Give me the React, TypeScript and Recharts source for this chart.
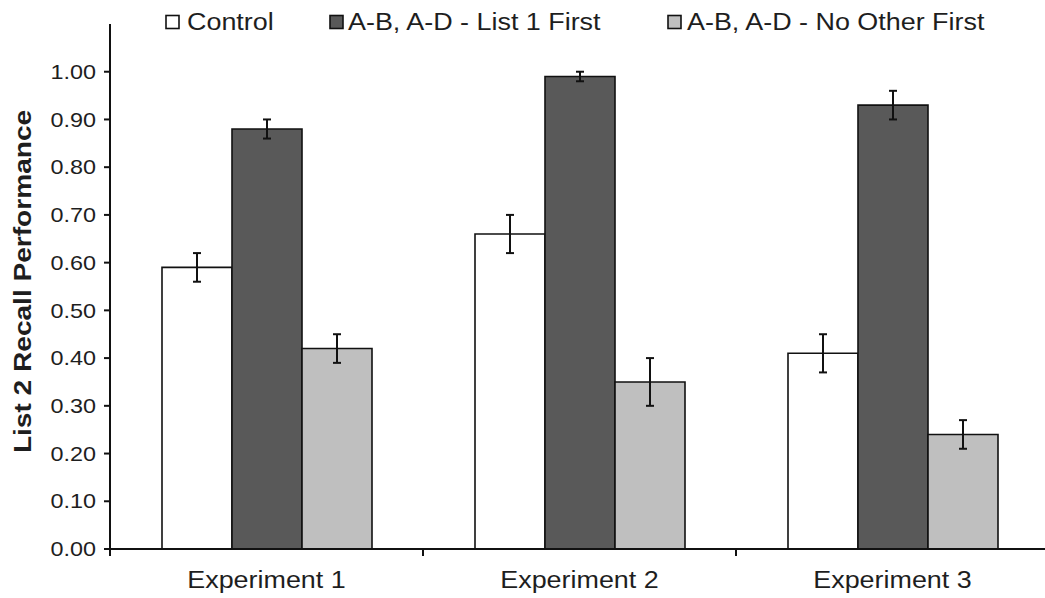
import React from 'react';
import { BarChart, Bar, XAxis, YAxis, ErrorBar, Legend } from 'recharts';

const categories = ['Experiment 1', 'Experiment 2', 'Experiment 3'];
const controlValues = [0.59, 0.66, 0.41];
const controlErrors = [0.03, 0.04, 0.04];
const list1FirstValues = [0.88, 0.99, 0.93];
const list1FirstErrors = [0.02, 0.01, 0.03];
const noOtherFirstValues = [0.42, 0.35, 0.24];
const noOtherFirstErrors = [0.03, 0.05, 0.03];
const yTicks = [0, 0.1, 0.2, 0.3, 0.4, 0.5, 0.6, 0.7, 0.8, 0.9, 1.0];
const seriesNames = ['Control', 'A-B, A-D - List 1 First', 'A-B, A-D - No Other First'];
const seriesColors = ['#FFFFFF', '#595959', '#BFBFBF'];
const yLabel = 'List 2 Recall Performance';

const data = categories.map((c, i) => ({
  name: c,
  control: controlValues[i],
  controlErr: controlErrors[i],
  list1: list1FirstValues[i],
  list1Err: list1FirstErrors[i],
  noOther: noOtherFirstValues[i],
  noOtherErr: noOtherFirstErrors[i],
}));

const FONT = '"Liberation Sans", Arial, sans-serif';
const TEXT = '#1e1e1e';
const SX = 1.17;

const YTick = (props: any) => {
  const { x, y, payload } = props;
  return (
    <text
      transform={`translate(${x - 6},${y}) scale(${SX},1)`}
      textAnchor="end"
      dy="0.36em"
      fontSize={20}
      fontFamily={FONT}
      fill={TEXT}
    >
      {Number(payload.value).toFixed(2)}
    </text>
  );
};

const XTick = (props: any) => {
  const { x, y, payload, width, visibleTicksCount, index } = props;
  const half =
    payload && typeof payload.offset === 'number' && payload.offset > 0
      ? payload.offset
      : width / visibleTicksCount / 2;
  const axisY = y - 8;
  return (
    <g>
      {index === 0 && (
        <line x1={x - half} x2={x - half} y1={axisY} y2={axisY + 7} stroke="#111" strokeWidth={2} />
      )}
      <line x1={x + half} x2={x + half} y1={axisY} y2={axisY + 7} stroke="#111" strokeWidth={2} />
      <text
        transform={`translate(${x},${axisY + 39}) scale(${SX},1)`}
        textAnchor="middle"
        fontSize={23}
        fontFamily={FONT}
        fill={TEXT}
      >
        {payload.value}
      </text>
    </g>
  );
};

const legendIconX = [166, 330, 668];
const legendTextX = [187, 348, 687];

const LegendContent = () => (
  <svg width={1045} height={45}>
    {seriesNames.map((n, i) => (
      <g key={n}>
        <rect
          x={legendIconX[i]}
          y={15.5}
          width={13}
          height={13}
          fill={seriesColors[i]}
          stroke="#111"
          strokeWidth={1.6}
        />
        <text
          transform={`translate(${legendTextX[i]},30) scale(${SX},1)`}
          fontSize={23}
          fontFamily={FONT}
          fill={TEXT}
        >
          {n}
        </text>
      </g>
    ))}
  </svg>
);

const YLabel = (props: any) => {
  const vb = props.viewBox || { y: 24, height: 525 };
  const cy = vb.y + vb.height / 2 - 5;
  return (
    <text
      transform={`translate(31,${cy}) rotate(-90) scale(${SX},1)`}
      textAnchor="middle"
      fontSize={24}
      fontWeight="bold"
      fontFamily={FONT}
      fill={TEXT}
    >
      {yLabel}
    </text>
  );
};

export default function App() {
  return (
    <div
      style={{
        position: 'absolute',
        left: 0,
        top: 0,
        width: 1045,
        height: 598,
        overflow: 'hidden',
        background: '#fff',
      }}
    >
      <BarChart
        width={1060}
        height={598}
        data={data}
        margin={{ top: 24, right: 11, left: 0, bottom: 0 }}
        barGap={0}
      >
        <Legend
          layout="horizontal"
          verticalAlign="middle"
          align="center"
          content={<LegendContent />}
          wrapperStyle={{ top: 0, left: 0, width: 1045, height: 45 }}
        />
        <XAxis
          dataKey="name"
          height={49}
          axisLine={{ stroke: '#111', strokeWidth: 2 }}
          tickLine={false}
          tick={<XTick />}
          interval={0}
        />
        <YAxis
          width={110}
          domain={[0, 1.1]}
          ticks={yTicks}
          allowDataOverflow
          axisLine={{ stroke: '#111', strokeWidth: 2 }}
          tickLine={{ stroke: '#111', strokeWidth: 2 }}
          tickSize={6}
          tick={<YTick />}
          label={<YLabel />}
        />
        <Bar dataKey="control" fill={seriesColors[0]} stroke="#111" strokeWidth={1.6} barSize={70} isAnimationActive={false}>
          <ErrorBar dataKey="controlErr" width={4} stroke="#111" strokeWidth={2} direction="y" />
        </Bar>
        <Bar dataKey="list1" fill={seriesColors[1]} stroke="#111" strokeWidth={1.6} barSize={70} isAnimationActive={false}>
          <ErrorBar dataKey="list1Err" width={4} stroke="#111" strokeWidth={2} direction="y" />
        </Bar>
        <Bar dataKey="noOther" fill={seriesColors[2]} stroke="#111" strokeWidth={1.6} barSize={70} isAnimationActive={false}>
          <ErrorBar dataKey="noOtherErr" width={4} stroke="#111" strokeWidth={2} direction="y" />
        </Bar>
      </BarChart>
    </div>
  );
}
